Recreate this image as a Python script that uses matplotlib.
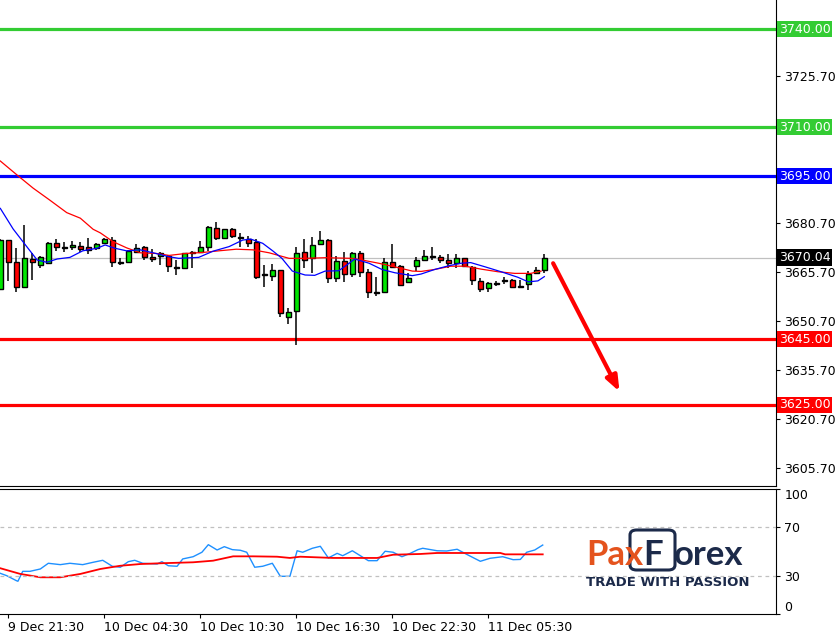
import matplotlib
matplotlib.use("Agg")
from matplotlib import pyplot as plt
from matplotlib import transforms
from matplotlib.patches import FancyBboxPatch

# 30 min candles (bar index = position)
opens = [3660.4, 3675.4, 3668.7, 3660.9, 3669.6, 3667.7, 3668.5, 3674.4, 3673.3, 3673.2,
         3673.5, 3673.2, 3672.9, 3674.4, 3675.5, 3668.7, 3668.8, 3671.7, 3673.2, 3670.2,
         3670.5, 3670.5, 3667.1, 3666.8, 3671.5, 3671.7, 3673.2, 3679.0, 3675.9, 3678.7,
         3676.2, 3675.7, 3674.7, 3664.9, 3664.3, 3666.1, 3651.9, 3653.6, 3671.7, 3669.8,
         3674.1, 3675.3, 3663.7, 3668.9, 3664.9, 3671.3, 3665.5, 3659.5, 3659.4, 3668.6,
         3667.4, 3662.5, 3667.4, 3669.2, 3670.5, 3670.1, 3669.2, 3668.3, 3669.8, 3667.1,
         3662.8, 3660.6, 3662.3, 3663.2, 3663.1, 3661.2, 3661.9, 3665.2, 3666.1]
highs = [3675.6, 3675.5, 3672.9, 3680.0, 3671.3, 3670.5, 3674.9, 3675.7, 3674.8, 3675.2,
         3674.9, 3675.9, 3674.6, 3676.1, 3676.2, 3669.8, 3672.5, 3674.1, 3673.7, 3672.6,
         3671.7, 3670.8, 3669.3, 3671.5, 3672.0, 3675.1, 3679.8, 3680.9, 3678.8, 3679.1,
         3677.6, 3676.6, 3675.7, 3667.7, 3668.0, 3666.2, 3654.5, 3673.4, 3675.6, 3676.2,
         3678.2, 3675.6, 3670.5, 3671.7, 3671.7, 3672.0, 3666.4, 3664.0, 3669.8, 3674.2,
         3667.7, 3665.4, 3670.3, 3672.3, 3673.2, 3670.7, 3671.0, 3671.0, 3669.9, 3667.4,
         3663.7, 3662.7, 3662.9, 3664.0, 3663.4, 3663.2, 3665.8, 3667.1, 3671.0]
lows = [3660.2, 3663.0, 3659.4, 3660.9, 3663.2, 3666.8, 3668.0, 3672.1, 3671.8, 3672.4,
        3671.8, 3671.0, 3672.4, 3674.1, 3667.1, 3667.7, 3668.3, 3671.3, 3669.3, 3668.6,
        3667.8, 3665.7, 3664.8, 3666.6, 3666.9, 3671.3, 3672.1, 3675.4, 3675.8, 3676.1,
        3673.4, 3673.4, 3663.5, 3661.1, 3662.9, 3651.9, 3649.7, 3643.4, 3666.9, 3665.4,
        3673.8, 3662.2, 3662.5, 3662.5, 3664.0, 3664.0, 3657.6, 3658.4, 3659.3, 3666.8,
        3661.5, 3662.2, 3665.8, 3669.1, 3669.2, 3668.3, 3666.9, 3666.8, 3667.3, 3661.5,
        3659.4, 3659.6, 3661.4, 3661.9, 3660.9, 3660.6, 3660.0, 3664.9, 3665.2]
closes = [3675.4, 3668.6, 3660.9, 3669.8, 3668.6, 3670.1, 3674.5, 3673.2, 3672.9, 3673.8,
          3672.8, 3672.4, 3674.2, 3675.6, 3668.6, 3668.5, 3672.1, 3673.1, 3670.1, 3669.5,
          3671.3, 3667.4, 3666.8, 3671.3, 3671.8, 3673.2, 3679.5, 3675.9, 3678.7, 3676.6,
          3675.9, 3674.4, 3664.1, 3664.6, 3666.1, 3653.0, 3653.3, 3671.3, 3669.3, 3673.8,
          3675.3, 3663.7, 3668.9, 3665.0, 3671.3, 3665.5, 3659.4, 3659.1, 3668.6, 3667.1,
          3661.5, 3663.7, 3669.2, 3670.4, 3670.1, 3669.2, 3668.3, 3669.8, 3667.4, 3663.1,
          3660.3, 3662.2, 3661.9, 3662.8, 3660.9, 3660.9, 3664.9, 3666.1, 3670.04]

# moving averages, read at points along the lines
slow_ma_bar = [0, 2.1, 4.1, 6.2, 8.3, 10.0, 11.6, 12.5, 14.1, 15.8, 17.5, 19.5, 21.1, 23.2,
               25.3, 27.3, 29.5, 31.6, 33.6, 36.1, 38.1, 40.6, 44.0, 45.2, 47.3, 49.3, 51.5,
               52.6, 54.3, 56.3, 58.1, 60.1, 62.2, 64.3, 66.3, 67.6]
slow_ma_val = [3699.6, 3695.3, 3691.3, 3687.6, 3683.8, 3682.1, 3678.7, 3677.6, 3674.9, 3673.0,
               3671.5, 3671.3, 3670.7, 3671.3, 3671.6, 3672.1, 3672.6, 3672.4, 3671.5, 3669.8,
               3669.8, 3670.0, 3669.8, 3669.3, 3668.3, 3667.2, 3665.9, 3665.8, 3666.4, 3667.4,
               3667.4, 3666.5, 3665.7, 3665.2, 3665.2, 3665.9]
fast_ma_bar = [0, 1.6, 3.3, 4.6, 5.8, 7.1, 8.7, 10.3, 12.1, 13.1, 14.3, 15.8, 17.5, 19.1, 21.1,
               22.3, 24.8, 26.6, 28.6, 30.3, 31.3, 32.8, 34.1, 35.2, 36.5, 38.1, 39.3, 40.6,
               42.3, 43.6, 44.3, 46.1, 47.7, 49.3, 51.5, 52.6, 54.3, 56.0, 57.6, 58.8, 60.6,
               62.6, 64.7, 66.0, 67.2, 68.0]
fast_ma_val = [3685.1, 3678.8, 3673.4, 3669.3, 3668.6, 3669.6, 3670.1, 3672.1, 3672.9, 3673.9,
               3672.9, 3672.1, 3672.4, 3671.5, 3670.3, 3669.8, 3670.1, 3672.0, 3673.4, 3675.4,
               3675.7, 3674.4, 3672.0, 3669.8, 3665.9, 3664.7, 3664.6, 3665.9, 3666.0, 3668.3,
               3669.6, 3668.3, 3666.4, 3665.4, 3664.5, 3665.0, 3666.4, 3667.5, 3668.3, 3668.5,
               3667.2, 3665.7, 3664.0, 3662.6, 3662.9, 3664.2]

# oscillator panel
rsi_bar = [0, 0.8, 2.0, 2.2, 2.8, 3.7, 5.0, 6.0, 7.5, 8.7, 10.3, 11.6, 12.8, 14.0, 15.0, 16.0,
           16.8, 17.8, 19.6, 20.2, 21.0, 22.1, 22.8, 24.1, 25.2, 26.0, 27.1, 28.0, 29.0, 30.0,
           30.8, 31.8, 32.8, 34.0, 35.0, 36.2, 37.1, 37.8, 39.0, 40.0, 41.0, 42.1, 42.8, 44.0,
           45.0, 46.0, 47.1, 48.1, 49.1, 50.2, 51.2, 52.2, 52.8, 54.6, 55.8, 57.1, 58.3, 60.0,
           61.2, 62.8, 64.1, 65.0, 65.8, 66.8, 67.8]
rsi_val = [32.4, 30.5, 26.5, 26.0, 34.0, 34.0, 35.9, 40.5, 39.4, 40.5, 39.4, 41.3, 42.9, 38.1,
           37.3, 41.8, 42.9, 40.5, 39.9, 41.8, 38.5, 38.1, 44.0, 45.8, 49.4, 55.5, 51.2, 53.9,
           51.5, 51.0, 49.4, 37.3, 38.1, 40.5, 30.0, 30.0, 50.6, 49.4, 52.6, 54.2, 44.8, 48.5,
           46.6, 50.6, 46.6, 42.6, 42.6, 50.2, 49.4, 45.8, 48.4, 51.5, 52.6, 50.6, 50.4, 51.8,
           47.7, 42.1, 44.5, 45.8, 43.4, 43.6, 49.4, 51.2, 55.2]
signal_bar = [0, 2.5, 5.0, 7.5, 10.0, 12.5, 15.0, 17.5, 20.0, 24.1, 26.6, 29.1, 31.6, 34.6,
              36.2, 37.5, 41.6, 47.1, 49.1, 52.5, 54.6, 62.5, 63.1, 67.8]
signal_val = [36.5, 31.9, 29.2, 29.2, 31.9, 35.9, 38.5, 39.9, 40.5, 41.3, 42.6, 46.1, 46.1, 45.8,
              44.8, 45.8, 44.8, 44.8, 47.4, 48.0, 48.8, 48.8, 47.7, 47.7]

# horizontal levels
resistance = [3740.00, 3710.00]
pivot = 3695.00
support = [3645.00, 3625.00]
last_price = 3670.04

price_ticks = [3605.7, 3620.7, 3635.7, 3650.7, 3665.7, 3680.7, 3725.7]
time_ticks = [1, 13, 25, 37, 49, 61]
time_labels = ["9 Dec 21:30", "10 Dec 04:30", "10 Dec 10:30",
               "10 Dec 16:30", "10 Dec 22:30", "11 Dec 05:30"]

GREEN = '#33CC33'
CANDLE_GREEN = '#00E600'
RED = '#FF0000'
BLUE = '#0000FF'
NAVY = '#1C2A4A'
ORANGE = '#E4531D'

W, H = 837, 633
fig = plt.figure(figsize=(W / 100, H / 100), dpi=100)
ax = fig.add_axes([0, 1 - 486 / H, 776 / W, 486 / H])
ax2 = fig.add_axes([0, 1 - 614 / H, 776 / W, 125 / H])

# candles
n = len(closes)
xs = list(range(n))
body_lo = [min(o, c) for o, c in zip(opens, closes)]
body_h = [abs(c - o) for o, c in zip(opens, closes)]
fills = []
for o, c in zip(opens, closes):
    if abs(c - o) < 0.45:
        fills.append('black')
    elif c > o:
        fills.append(CANDLE_GREEN)
    else:
        fills.append(RED)
ax.vlines(xs, lows, highs, color='black', lw=1.1, zorder=3)
ax.bar(xs, body_h, bottom=body_lo, width=0.62, color=fills, edgecolor='black',
       linewidth=1.0, zorder=4)

ax.plot(slow_ma_bar, slow_ma_val, color=RED, lw=0.9, zorder=5)
ax.plot(fast_ma_bar, fast_ma_val, color=BLUE, lw=0.9, zorder=5)

# levels
ax.axhline(last_price, color='#C0C0C0', lw=0.9, zorder=1)
for lv in resistance:
    ax.axhline(lv, color=GREEN, lw=2.3, zorder=2)
ax.axhline(pivot, color=BLUE, lw=2.3, zorder=2)
for lv in support:
    ax.axhline(lv, color=RED, lw=2.3, zorder=2)

ax.annotate('', xy=(77.4, 3629.0), xytext=(69.1, 3668.3),
            arrowprops=dict(arrowstyle='-|>,head_length=0.9,head_width=0.35',
                            color=RED, lw=3, shrinkA=0, shrinkB=0))

ax.set_xlim(-0.04, 96.96)
ax.set_ylim(3600.1, 3748.9)
ax.set_xticks([])
ax.yaxis.tick_right()
ax.set_yticks(price_ticks)
ax.set_yticklabels(['%.2f' % t for t in price_ticks])
ax.tick_params(axis='y', direction='out', length=3, pad=3, labelsize=9, colors='black')
for s in ['top', 'left']:
    ax.spines[s].set_visible(False)

# value boxes on the price scale
trans = transforms.blended_transform_factory(ax.transAxes, ax.transData)
boxes = [(v, GREEN) for v in resistance] + [(pivot, BLUE)] + [(v, RED) for v in support]
boxes.append((last_price, 'black'))
for v, col in boxes:
    ax.text(1.004, v, '%.2f' % v, transform=trans, ha='left', va='center', fontsize=9,
            color='white', bbox=dict(facecolor=col, edgecolor='none', pad=1.2), zorder=10,
            clip_on=False)

# oscillator
ax2.plot(rsi_bar, rsi_val, color='#1E90FF', lw=1.0)
ax2.plot(signal_bar, signal_val, color=RED, lw=1.3)
for lv in [70, 30]:
    ax2.axhline(lv, color='#C0C0C0', lw=0.9, ls=(0, (3, 3)))
ax2.set_xlim(-0.04, 96.96)
ax2.set_ylim(-0.4, 100.4)
ax2.yaxis.tick_right()
ax2.set_yticks([0, 30, 70, 100])
ax2.set_yticklabels(['0', '30', '70', '100'])
ax2.tick_params(axis='y', direction='out', length=3, pad=3, labelsize=9, colors='black')
for lab in ax2.get_yticklabels():
    if lab.get_text() == '100':
        lab.set_va('top')
        lab.set_y(97)
    elif lab.get_text() == '0':
        lab.set_va('bottom')
ax2.set_xticks(time_ticks)
ax2.set_xticklabels(time_labels, ha='left')
ax2.tick_params(axis='x', direction='out', length=3, pad=2, labelsize=9, colors='black')
ax2.spines['left'].set_visible(False)

# logo
def fx(px):
    return px / W

def fy(py):
    return 1 - py / H

fig.text(fx(586), fy(565), 'Pax', fontsize=25, fontweight='bold', family='Lato',
         color=ORANGE, va='baseline', ha='left')
fig.patches.append(FancyBboxPatch((fx(630), fy(570)), fx(45), 40 / H,
                                  boxstyle='round,pad=0,rounding_size=0.008',
                                  transform=fig.transFigure, facecolor='none',
                                  edgecolor=NAVY, lw=2.2))
fig.text(fx(653), fy(565), 'F', fontsize=25, fontweight='bold', family='Lato',
         color=NAVY, va='baseline', ha='center')
fig.text(fx(674), fy(565), 'orex', fontsize=25, fontweight='bold', family='Lato',
         color=NAVY, va='baseline', ha='left')
fig.text(fx(668), fy(583), 'TRADE WITH PASSION', fontsize=9.5, fontweight='bold',
         color=NAVY, va='center', ha='center')

fig.savefig('out.png', dpi=100)
